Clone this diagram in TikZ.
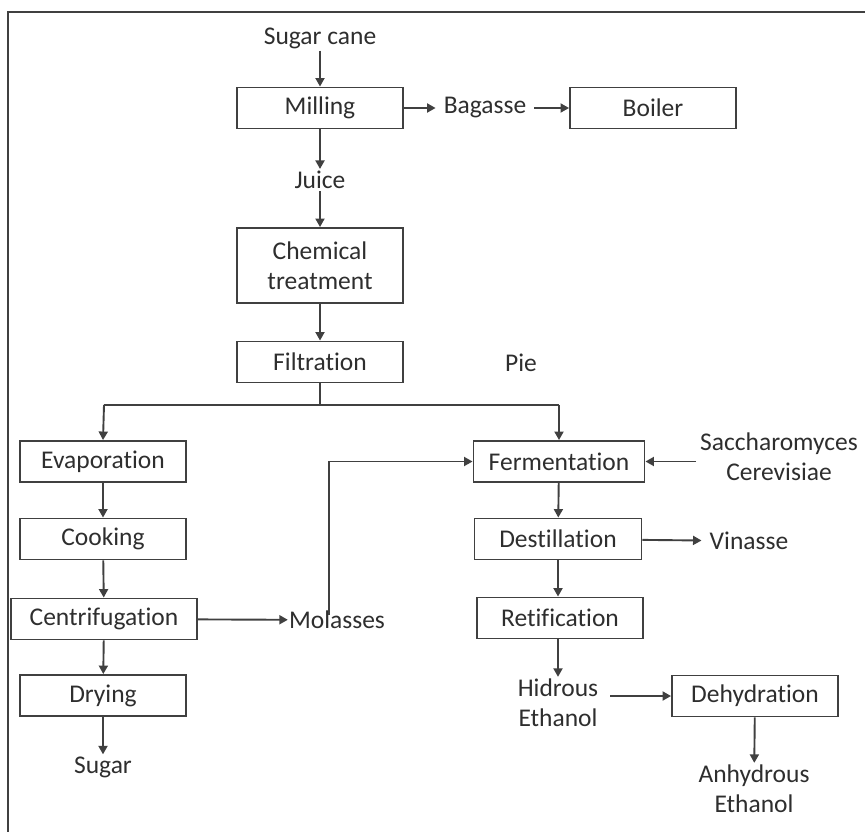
\documentclass[tikz,border=0pt]{standalone}
\usepackage{fontspec}
\setmainfont[Ligatures=NoCommon]{Carlito}
\usetikzlibrary{arrows.meta}
\definecolor{ink}{HTML}{2E2E2E}
\definecolor{edge}{HTML}{404040}
\begin{document}
\begin{tikzpicture}[x=1pt,y=-1pt,
  every node/.style={font=\fontsize{25.5}{30}\selectfont, text=ink},
  box/.style={draw=edge, line width=1.9pt, minimum width=166pt, minimum height=41pt, inner sep=2pt, align=center},
  lbl/.style={inner ysep=2pt, inner xsep=8pt, align=center},
  arr/.style={draw=edge, line width=1.9pt, -{Triangle[length=8.5pt,width=9pt]}},
  ln/.style={draw=edge, line width=1.9pt}]
\useasboundingbox (0,0) rectangle (865,832);
% frame (left and top only)
\draw[edge, line width=2.4pt] (8,832) -- (8,12) -- (865,12);

\node[lbl] (cane) at (320,38) {Sugar cane};
\node[box] (mill) at (320,108) {Milling};
\node[lbl] (bag) at (485,108) {Bagasse};
\node[box] (boil) at (653,108) {Boiler};
\node[lbl] (juice) at (320,180) {Juice};
\node[box, minimum height=75pt] (chem) at (320,265.5) {Chemical\\treatment};
\node[box] (filt) at (320,362) {Filtration};
\node[lbl] (pie) at (521,363) {Pie};
\coordinate (split) at (320,405);
\coordinate (sl) at (104,405);
\coordinate (sr) at (559,405);

\node[box] (evap) at (103,461.5) {Evaporation};
\node[box] (cook) at (103,539) {Cooking};
\node[box, minimum width=186pt] (cent) at (104,619) {Centrifugation};
\node[box] (dry) at (103,695.5) {Drying};
\node[lbl] (sugar) at (103,767) {Sugar};
\node[lbl, inner xsep=1pt] (mol) at (337,620) {Molasses};

\node[box, minimum width=171pt] (ferm) at (559,461.5) {Fermentation};
\node[lbl] (sac) at (779,457) {Saccharomyces\\Cerevisiae};
\node[box, minimum width=167pt] (dest) at (558,539) {Destillation};
\node[lbl] (vin) at (749,541) {Vinasse};
\node[box] (ret) at (560,618) {Retification};
\node[lbl] (hid) at (558,703) {Hidrous\\Ethanol};
\node[box] (dehy) at (755,696) {Dehydration};
\node[lbl] (anh) at (754,789) {Anhydrous\\Ethanol};

\draw[arr] (cane) -- (mill);
\draw[arr] (mill) -- (bag);
\draw[arr] (bag) -- (boil);
\draw[arr] (mill) -- (juice);
\draw[arr] (juice) -- (chem);
\draw[arr] (chem) -- (filt);
\draw[ln] (filt.south) -- (split);
\draw[ln] (sl) -- (sr);
\draw[arr] (sl) -- (evap.north);
\draw[arr] (sr) -- (ferm.north);
\draw[arr] (evap) -- (cook);
\draw[arr] (cook) -- (cent);
\draw[arr] (cent) -- (mol);
\draw[arr] (cent) -- (dry);
\draw[arr] (dry) -- (sugar);
\draw[arr] ([xshift=-8pt,yshift=-6pt]mol.north) |- (ferm.west);
\draw[arr] ([xshift=4pt]sac.west |- ferm.east) -- (ferm.east);
\draw[arr] (ferm) -- (dest);
\draw[arr] (dest) -- (vin);
\draw[arr] (dest.south) -- (dest.south |- ret.north);
\draw[arr] (ret.south -| hid.north) -- (hid.north);
\draw[arr] ([xshift=4pt]hid.east |- dehy.west) -- (dehy.west);
\draw[arr] (dehy) -- (anh);
\end{tikzpicture}
\end{document}
